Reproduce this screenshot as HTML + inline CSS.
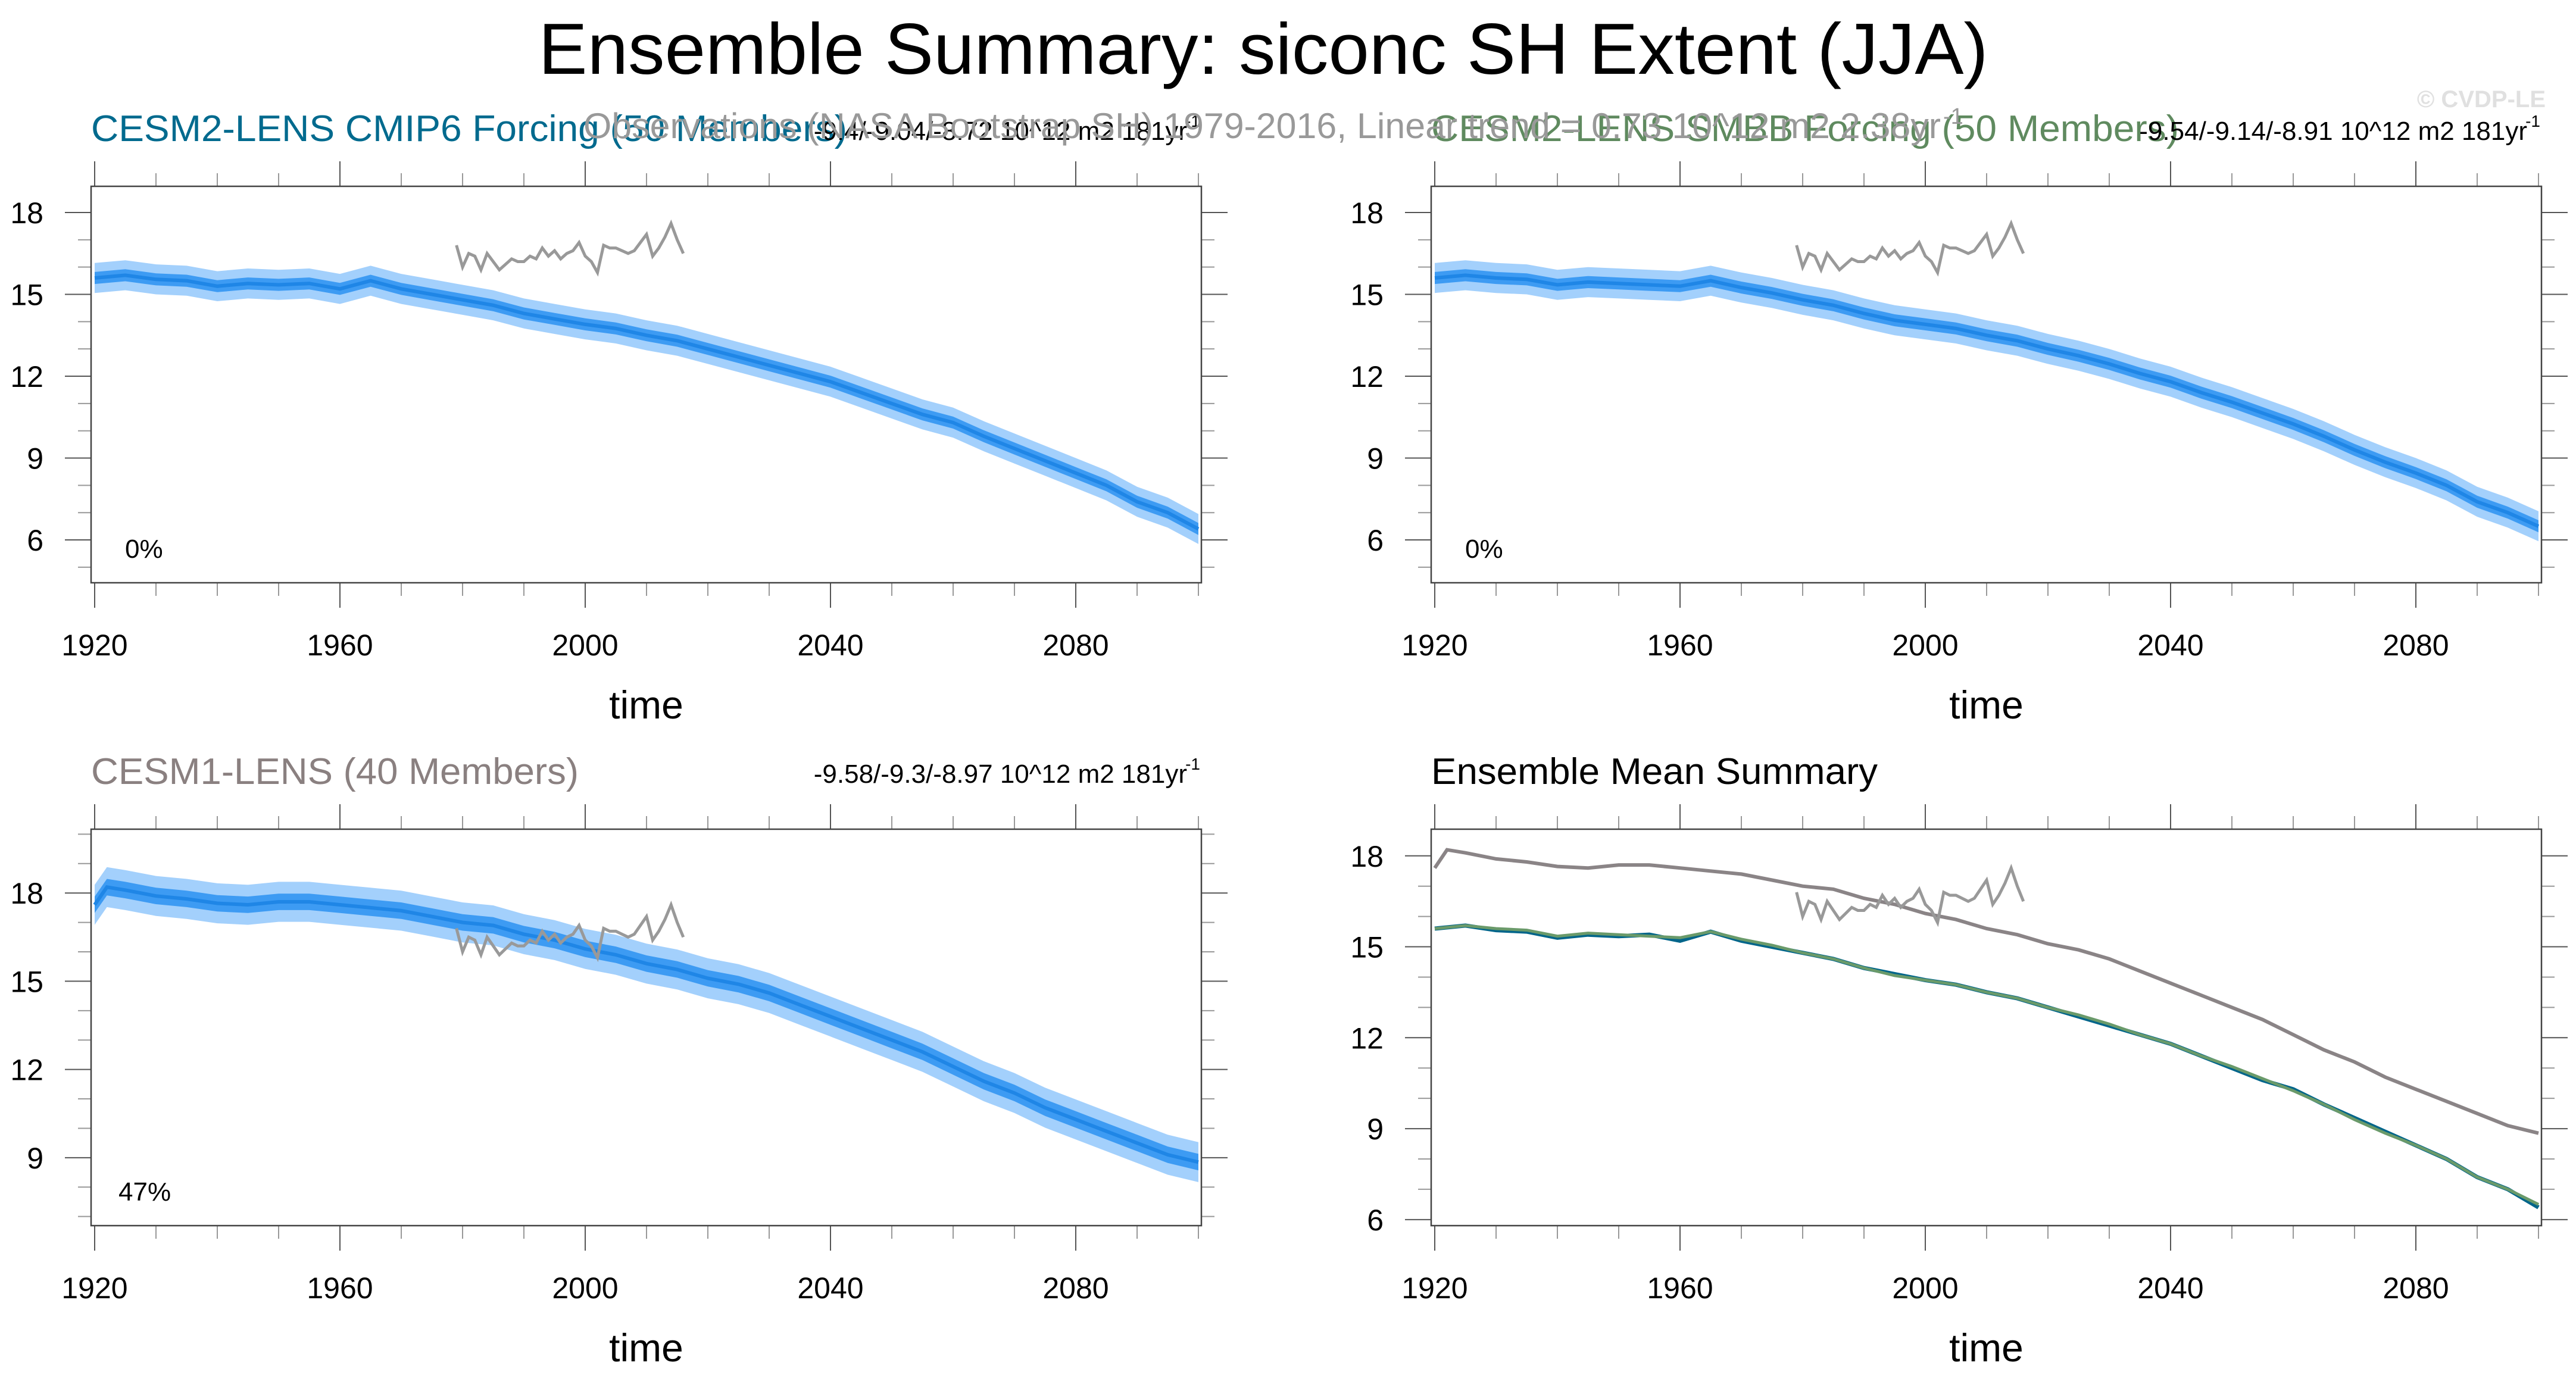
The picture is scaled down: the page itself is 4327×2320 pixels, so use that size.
<!DOCTYPE html>
<html><head><meta charset="utf-8"><title>Ensemble Summary: siconc SH Extent (JJA)</title>
<style>html,body{margin:0;padding:0;background:#fff}svg{display:block;font-family:"Liberation Sans",sans-serif}</style>
</head><body>
<svg id="fig" width="4327" height="2320" viewBox="0 0 4327 2320" xmlns="http://www.w3.org/2000/svg">
<text x="2122" y="124" font-size="122" text-anchor="middle" textLength="2435" lengthAdjust="spacingAndGlyphs">Ensemble Summary: siconc SH Extent (JJA)</text>
<text x="4276" y="180" font-size="40" font-weight="bold" fill="#e0e0e0" text-anchor="end">© CVDP-LE</text>
</svg>
<script>
// ---- data ----
const years5 = [1920,1925,1930,1935,1940,1945,1950,1955,1960,1965,1970,1975,1980,1985,1990,1995,2000,2005,2010,2015,2020,2025,2030,2035,2040,2045,2050,2055,2060,2065,2070,2075,2080,2085,2090,2095,2100];
const cmip6Mean = [15.6,15.7,15.55,15.5,15.3,15.4,15.35,15.4,15.2,15.5,15.2,15.0,14.8,14.6,14.3,14.1,13.9,13.75,13.5,13.3,13.0,12.7,12.4,12.1,11.8,11.4,11.0,10.6,10.3,9.8,9.35,8.9,8.45,8.0,7.4,7.0,6.4];
const smbbMean = [15.6,15.7,15.6,15.55,15.35,15.45,15.4,15.35,15.3,15.5,15.25,15.05,14.8,14.6,14.3,14.05,13.9,13.75,13.5,13.3,13.0,12.75,12.45,12.1,11.8,11.4,11.05,10.65,10.25,9.8,9.3,8.85,8.45,8.0,7.4,7.0,6.5];
const cesm1Years = [1920,1922,1925,1930,1935,1940,1945,1950,1955,1960,1965,1970,1975,1980,1985,1990,1995,2000,2005,2010,2015,2020,2025,2030,2035,2040,2045,2050,2055,2060,2065,2070,2075,2080,2085,2090,2095,2100];
const cesm1Mean = [17.6,18.2,18.1,17.9,17.8,17.65,17.6,17.7,17.7,17.6,17.5,17.4,17.2,17.0,16.9,16.6,16.4,16.1,15.9,15.6,15.4,15.1,14.9,14.6,14.2,13.8,13.4,13.0,12.6,12.1,11.6,11.2,10.7,10.3,9.9,9.5,9.1,8.85];
const obsYears = [1979,1980,1981,1982,1983,1984,1985,1986,1987,1988,1989,1990,1991,1992,1993,1994,1995,1996,1997,1998,1999,2000,2001,2002,2003,2004,2005,2006,2007,2008,2009,2010,2011,2012,2013,2014,2015,2016];
const obsValues = [16.8,16.0,16.5,16.4,15.9,16.5,16.2,15.9,16.1,16.3,16.2,16.2,16.4,16.3,16.7,16.4,16.6,16.3,16.5,16.6,16.9,16.4,16.2,15.8,16.8,16.7,16.7,16.6,16.5,16.6,16.9,17.2,16.4,16.7,17.1,17.6,17.0,16.5];
const innerHalf = [0.22,0.22,0.28];
const outerHalf = [0.55,0.55,0.68];
const xTicks = [1920,1960,2000,2040,2080];
const yTicks1 = [6,9,12,15,18];
const yTicks3 = [9,12,15,18];

const NS='http://www.w3.org/2000/svg';
const svg=document.getElementById('fig');
function mk(tag,attrs,parent){const e=document.createElementNS(NS,tag);for(const k in attrs)e.setAttribute(k,attrs[k]);(parent||svg).appendChild(e);return e;}

const panels=[
 {x0:153,x1:2018,y0:313,y1:979,vmin:4.43,vmax:18.96,yt:yTicks1,title:'CESM2-LENS CMIP6 Forcing (50 Members)',tcol:'#006a8e',tlen:1270,stats:'-9.4/-9.04/-8.72 10^12 m2 181yr',xs:years5,mean:cmip6Mean,band:0,pct:'0%',name:'cesm2-cmip6'},
 {x0:2404,x1:4269,y0:313,y1:979,vmin:4.43,vmax:18.96,yt:yTicks1,title:'CESM2-LENS SMBB Forcing (50 Members)',tcol:'#5f8a5f',tlen:1256,stats:'-9.54/-9.14/-8.91 10^12 m2 181yr',xs:years5,mean:smbbMean,band:1,pct:'0%',name:'cesm2-smbb'},
 {x0:153,x1:2018,y0:1393,y1:2059,vmin:6.69,vmax:20.17,yt:yTicks3,title:'CESM1-LENS (40 Members)',tcol:'#8a8080',tlen:819,stats:'-9.58/-9.3/-8.97 10^12 m2 181yr',xs:cesm1Years,mean:cesm1Mean,band:2,pct:'47%',name:'cesm1'},
 {x0:2404,x1:4269,y0:1393,y1:2059,vmin:5.80,vmax:18.88,yt:yTicks1,title:'Ensemble Mean Summary',tcol:'#000',tlen:750,stats:null,name:'ensemble-mean'}
];

panels.forEach((p,pi)=>{
 const g=mk('g',{});
 
 
 const X=yr=>p.x0+6+(yr-1920)*(p.x1-p.x0-11)/180;
 const Y=v=>p.y1-(v-p.vmin)*(p.y1-p.y0)/(p.vmax-p.vmin);
 const t=mk('text',{x:p.x0,y:p.y0-76,'font-size':62,fill:p.tcol,textLength:p.tlen,lengthAdjust:'spacingAndGlyphs'},g);
 t.textContent=p.title;
 
 
 if(p.stats){
  const s=mk('text',{x:p.x1-24,y:p.y0-78,'font-size':44,'text-anchor':'end'},g);
  s.textContent=p.stats;
  
  
  const sup=mk('text',{x:p.x1-2,y:p.y0-100,'font-size':28,'text-anchor':'end'},g);
  sup.textContent='-1';
  
  
 }
 for(let yr=1920;yr<=2100;yr+=10){
  const maj=(yr-1920)%40===0, L=maj?42:22, c=maj?'#555':'#999';
  mk('line',{x1:X(yr),x2:X(yr),y1:p.y0,y2:p.y0-L,stroke:c,'stroke-width':2},g);
  mk('line',{x1:X(yr),x2:X(yr),y1:p.y1,y2:p.y1+L,stroke:c,'stroke-width':2},g);
 }
 for(let v=Math.ceil(p.vmin);v<=p.vmax;v++){
  const maj=p.yt.includes(v), L=maj?44:22, c=maj?'#555':'#999';
  mk('line',{x1:p.x0,x2:p.x0-L,y1:Y(v),y2:Y(v),stroke:c,'stroke-width':2},g);
  mk('line',{x1:p.x1,x2:p.x1+L,y1:Y(v),y2:Y(v),stroke:c,'stroke-width':2},g);
 }
 xTicks.forEach(yr=>{
  const l=mk('text',{x:X(yr),y:p.y1+122,'font-size':50,'text-anchor':'middle'},g);
  l.textContent=yr;
  
  
 });
 p.yt.forEach(v=>{
  const l=mk('text',{x:p.x0-80,y:Y(v)+18,'font-size':50,'text-anchor':'end'},g);
  l.textContent=v;
  
  
 });
 const xt=mk('text',{x:(p.x0+p.x1)/2,y:p.y1+228,'font-size':66,'text-anchor':'middle'},g);
 xt.textContent='time';
 
 

 const path=(xs,vs)=>xs.map((yr,i)=>(i?'L':'M')+X(yr).toFixed(1)+','+Y(vs[i]).toFixed(1)).join('');
 if(p.mean){
  const ih=innerHalf[p.band], oh=outerHalf[p.band];
  const band=(h)=>path(p.xs,p.mean.map(v=>v+h))+path(p.xs.slice().reverse(),p.mean.slice().reverse().map(v=>v-h)).replace('M','L')+'Z';
  const ob=mk('path',{d:band(oh),fill:'#a3d0fc'},g);
  
  
  const ib=mk('path',{d:band(ih),fill:'#3d9bf3'},g);
  
  
  const ml=mk('path',{d:path(p.xs,p.mean),fill:'none',stroke:'#1f86e6','stroke-width':6},g);
  
  
  const pc=mk('text',{x:p.x0+(pi===2?46:57),y:p.y1-42,'font-size':44},g);
  pc.textContent=p.pct;
  
  
 } else {
  const l1=mk('path',{d:path(cesm1Years,cesm1Mean),fill:'none',stroke:'#8a8486','stroke-width':6},g);
  
  
  const l2=mk('path',{d:path(years5,cmip6Mean),fill:'none',stroke:'#00658a','stroke-width':7},g);
  
  
  const l3=mk('path',{d:path(years5,smbbMean),fill:'none',stroke:'#6a9a6a','stroke-width':5},g);
  
  
 }
 const ol=mk('path',{d:path(obsYears,obsValues),fill:'none',stroke:'#999','stroke-width':5},g);
 
 
 const box=mk('rect',{x:p.x0,y:p.y0,width:p.x1-p.x0,height:p.y1-p.y0,fill:'none',stroke:'#444','stroke-width':2.5},g);
 
 
});
const obsT=mk('text',{x:980,y:232,'font-size':60,fill:'#999',textLength:2280,lengthAdjust:'spacingAndGlyphs'});
obsT.textContent='Observations (NASA Bootstrap SH) 1979-2016, Linear trend = 0.73 10^12 m2 2.38yr';


const obsS=mk('text',{x:3264,y:208,'font-size':38,fill:'#999'});
obsS.textContent='-1';


</script>
</body></html>
